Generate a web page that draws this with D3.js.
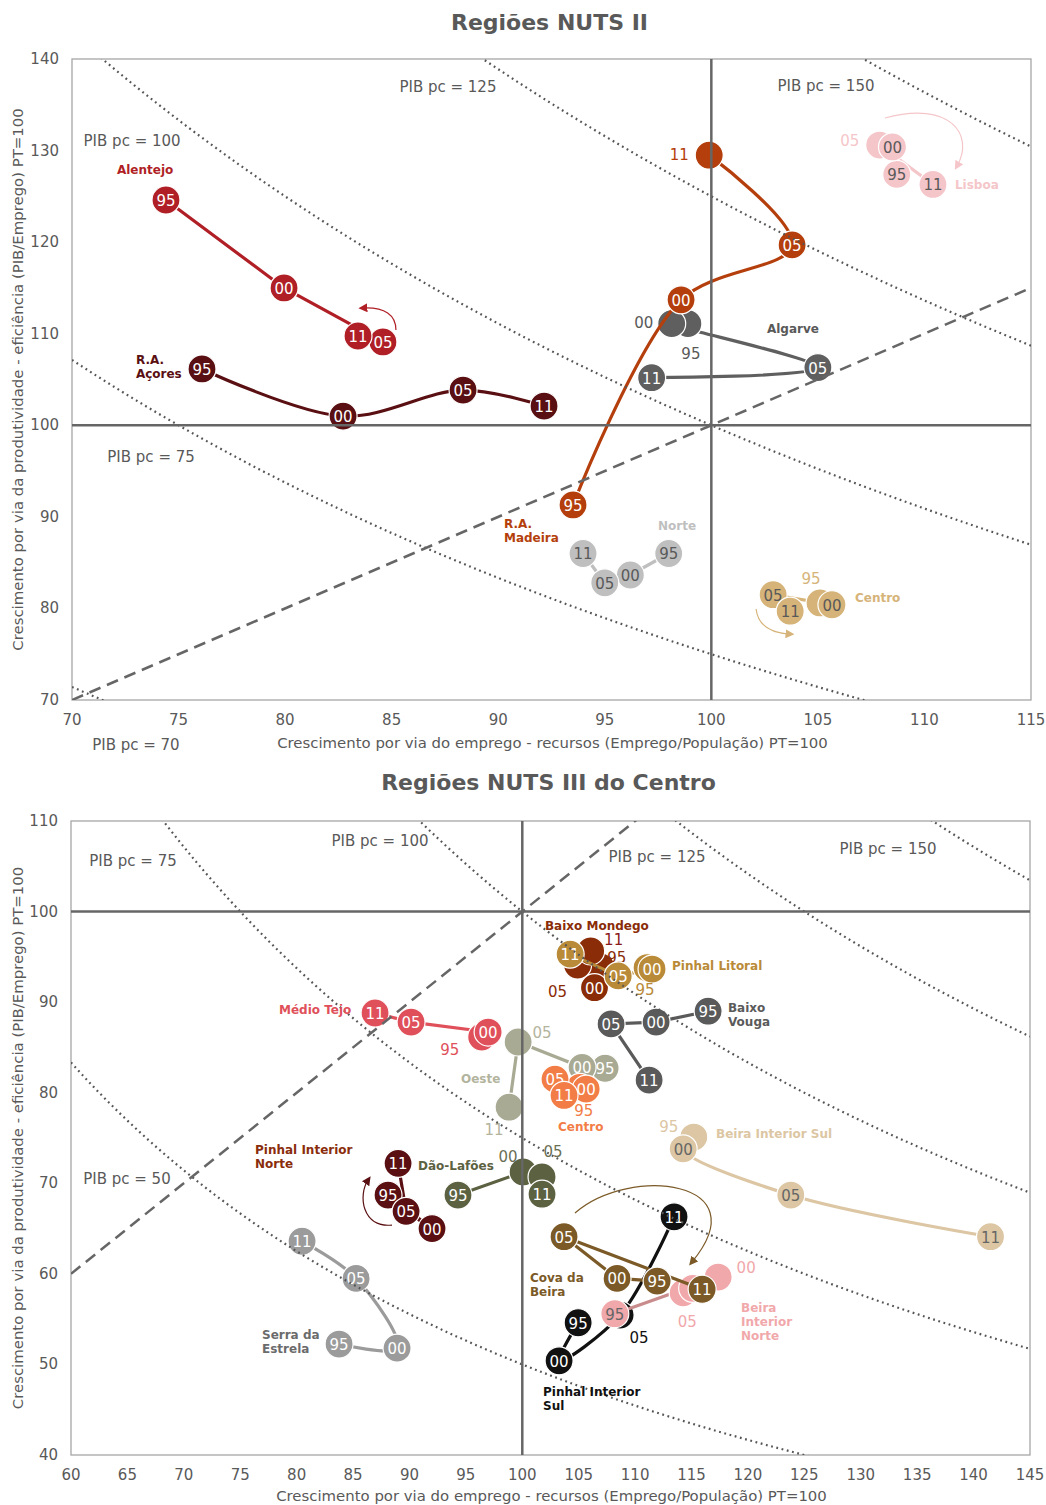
<!DOCTYPE html>
<html><head><meta charset="utf-8">
<script src="https://cdn.jsdelivr.net/npm/d3@7/dist/d3.min.js"></script>
<style>
body{margin:0;background:#fff}
svg text{font-family:"DejaVu Sans",Verdana,sans-serif}
</style>
</head><body>
<svg id="chart" width="1046" height="1505"></svg>
<script>
// ---------------- DATA ----------------
const years = ["95","00","05","11"];

// Regiões NUTS II (draw order)
const nuts2Names = ["Norte","Centro","Lisboa","Alentejo","Algarve","R.A. Açores","R.A. Madeira"];
const nuts2X = [
  [98.0, 96.2, 95.0, 93.98],
  [105.1, 105.66, 102.9, 103.7],
  [108.7, 108.5, 107.9, 110.4],
  [74.41, 79.95, 84.59, 83.42],
  [98.9, 98.14, 105.0, 97.2],
  [76.1, 82.72, 88.35, 92.15],
  [93.51, 98.58, 103.79, 99.9]
];
const nuts2Y = [
  [86.0, 83.65, 82.8, 86.0],
  [80.6, 80.4, 81.5, 79.7],
  [127.4, 130.4, 130.6, 126.3],
  [124.6, 115.0, 109.1, 109.75],
  [111.1, 111.1, 106.3, 105.2],
  [106.15, 101.0, 103.85, 102.1],
  [91.3, 113.7, 119.7, 129.5]
];

// Regiões NUTS III do Centro (draw order)
const nuts3Names = ["Serra da Estrela","Pinhal Interior Norte","Dão-Lafões","Médio Tejo","Oeste","Centro",
  "Baixo Vouga","Baixo Mondego","Pinhal Litoral","Beira Interior Sul","Pinhal Interior Sul","Beira Interior Norte","Cova da Beira"];
const nuts3X = [
  [83.76, 88.9, 85.27, 80.48],
  [88.1, 92.0, 89.7, 88.99],
  [94.3, 100.07, 101.75, 101.75],
  [96.4, 96.97, 90.14, 86.95],
  [107.34, 105.3, 99.63, 98.83],
  [105.1, 105.66, 102.9, 103.7],
  [116.47, 111.86, 107.87, 111.24],
  [106.95, 106.4, 104.9, 106.06],
  [111.06, 111.5, 108.5, 104.24],
  [115.2, 114.26, 123.8, 141.5],
  [104.95, 103.26, 108.67, 113.45],
  [108.2, 117.36, 114.26, 115.1],
  [111.95, 108.4, 103.7, 115.94]
];
const nuts3Y = [
  [52.25, 51.8, 59.5, 63.6],
  [68.7, 65.0, 66.9, 72.2],
  [68.7, 71.25, 70.7, 68.8],
  [86.15, 86.7, 87.8, 88.8],
  [82.7, 82.8, 85.6, 78.4],
  [80.6, 80.4, 81.5, 79.7],
  [89.0, 87.8, 87.6, 81.4],
  [93.9, 91.6, 94.1, 95.65],
  [93.8, 93.65, 92.9, 95.3],
  [75.1, 73.8, 68.7, 64.1],
  [54.6, 50.4, 55.45, 66.3],
  [55.6, 59.65, 57.9, 58.4],
  [59.2, 59.5, 64.1, 58.3]
];

// axes ticks and iso-GDP levels
const xTicks1 = [70,75,80,85,90,95,100,105,110,115];
const yTicks1 = [70,80,90,100,110,120,130,140];
const xTicks2 = [60,65,70,75,80,85,90,95,100,105,110,115,120,125,130,135,140,145];
const yTicks2 = [40,50,60,70,80,90,100,110];
const isoLevels1 = [50,75,100,125,150];
const isoLevels2 = [50,75,100,125,150];

// iso label texts (with anchor in data units)
const isoLabels1 = [["PIB pc = 125",87.64,136.94],["PIB pc = 150",105.38,137.05],["PIB pc = 100",72.82,131.05],
  ["PIB pc = 75",73.71,96.54],["PIB pc = 70",73.0,65.08]];
const isoLabels2 = [["PIB pc = 100",87.39,107.79],["PIB pc = 75",65.5,105.58],["PIB pc = 125",111.94,106.03],
  ["PIB pc = 150",132.42,106.91],["PIB pc = 50",64.96,70.47]];

// ---------------- STYLES / ANNOTATIONS ----------------
const styles = {
  "Norte":{c:"#bfbfbf",t:"#595959",lab:"#bfbfbf"},
  "Centro":{c:"#d6b479",t:"#595959",lab:"#d6b479"},
  "Lisboa":{c:"#f5c6c9",t:"#595959",lab:"#f5c6c9"},
  "Alentejo":{c:"#b01f26",t:"#fff",lab:"#b01f26"},
  "Algarve":{c:"#5f5f5f",t:"#fff",lab:"#595959",smooth:true},
  "R.A. Açores":{c:"#5a1012",t:"#fff",lab:"#5a1012",smooth:true},
  "R.A. Madeira":{c:"#b43f0c",t:"#fff",lab:"#b43f0c",smooth:true},
  "Serra da Estrela":{c:"#9b9b9b",t:"#fff",lab:"#6b6b6b",smooth:true},
  "Pinhal Interior Norte":{c:"#5a1012",t:"#fff",lab:"#8a2d0c"},
  "Dão-Lafões":{c:"#5c6142",t:"#fff",lab:"#5c6142"},
  "Médio Tejo":{c:"#e0505a",t:"#fff",lab:"#e0505a"},
  "Oeste":{c:"#a9aa94",t:"#fff",lab:"#b3b49e"},
  "Centro3":{c:"#f27d46",t:"#fff",lab:"#f27d46"},
  "Baixo Vouga":{c:"#5a5a5a",t:"#fff",lab:"#5a5a5a"},
  "Baixo Mondego":{c:"#8a2c08",t:"#fff",lab:"#8a2c08"},
  "Pinhal Litoral":{c:"#b98a37",t:"#fff",lab:"#b98a37"},
  "Beira Interior Sul":{c:"#dcc6a3",t:"#666",lab:"#dcc6a3",smooth:true},
  "Pinhal Interior Sul":{c:"#111111",t:"#fff",lab:"#111111",smooth:true},
  "Beira Interior Norte":{c:"#f1a8ab",t:"#666",lab:"#f1a8ab",line:"#c98c8c"},
  "Cova da Beira":{c:"#7b5a27",t:"#fff",lab:"#7b5a27"}
};

// year labels placed outside their circle: [series, year, dx, dy, colour] (dx===null -> no label)
const outside1 = [["R.A. Madeira","11",-30,0,"#b43f0c"],["Algarve","00",-28,-1,"#595959"],["Algarve","95",3,30,"#595959"],
  ["Lisboa","05",-30,-4,"#f5c6c9"],["Centro","95",-9,-24,"#d6b479"]];
const outside2 = [["Baixo Mondego","11",23,-11,"#8b1a1a"],["Baixo Mondego","95",16,-9,"#8a2c08"],["Baixo Mondego","05",-20,27,"#8a2c08"],
  ["Pinhal Litoral","95",-2,22,"#b98a37"],["Centro","95",4,24,"#f27d46"],["Oeste","05",24,-9,"#b3b49e"],["Oeste","11",-15,23,"#b3b49e"],
  ["Médio Tejo","95",-32,13,"#e0505a"],["Dão-Lafões","00",-15,-15,"#6b6f55"],["Dão-Lafões","05",11,-25,"#6b6f55"],
  ["Beira Interior Sul","95",-25,-10,"#dcc6a3"],["Beira Interior Norte","00",28,-9,"#f1a8ab"],["Beira Interior Norte","05",4,29,"#f1a8ab"],
  ["Beira Interior Norte","11",null,0,""],["Pinhal Interior Sul","05",19,23,"#111111"]];

// series name labels: [lines, x, y (data units), anchor, series]
const names1 = [[["Alentejo"],73.43,127.88,"middle","Alentejo"],[["R.A.","Açores"],73.0,107.13,"start","R.A. Açores"],
  [["R.A.","Madeira"],90.27,89.22,"start","R.A. Madeira"],[["Algarve"],103.83,110.51,"middle","Algarve"],
  [["Lisboa"],111.43,126.24,"start","Lisboa"],[["Norte"],97.5,89.0,"start","Norte"],[["Centro"],106.74,81.14,"start","Centro"]];
const names2 = [[["Baixo Mondego"],102.01,98.41,"start","Baixo Mondego"],[["Pinhal Litoral"],113.27,93.99,"start","Pinhal Litoral"],
  [["Baixo","Vouga"],118.23,89.35,"start","Baixo Vouga"],[["Médio Tejo"],78.44,89.13,"start","Médio Tejo"],
  [["Oeste"],94.57,81.51,"start","Oeste"],[["Centro"],103.17,76.21,"start","Centro3"],
  [["Pinhal Interior","Norte"],76.31,73.67,"start","Pinhal Interior Norte"],[["Dão-Lafões"],90.76,71.91,"start","Dão-Lafões"],
  [["Beira Interior Sul"],117.17,75.44,"start","Beira Interior Sul"],[["Serra da","Estrela"],76.93,53.25,"start","Serra da Estrela"],
  [["Cova da","Beira"],100.68,59.54,"start","Cova da Beira"],[["Beira","Interior","Norte"],119.39,56.23,"start","Beira Interior Norte"],
  [["Pinhal Interior","Sul"],101.84,46.95,"start","Pinhal Interior Sul"]];

// curved arrows (cubic, data units): [colour, [[x0,y0],[c1],[c2],[x1,y1]]]
const arrows1 = [["#b01f26",[[85.20,110.41],[85.20,112.05],[84.68,112.92],[83.65,112.81]]],
  ["#f5c6c9",[[108.15,133.56],[111.2,135.52],[112.37,131.7],[111.53,128.32]]],
  ["#d6b479",[[102.1,79.94],[102.19,78.19],[102.75,77.32],[103.69,77.21]]]];
const arrows2 = [["#5a1012",[[88.45,65.39],[85.79,65.06],[85.43,68.7],[86.33,70.36]]],
  ["#7b5a27",[[104.67,66.72],[109.55,72.02],[121.07,70.36],[115.04,61.31]]]];

// ---------------- DRAW ----------------
const svg = d3.select("#chart");
const GREY = "#595959";

function panel(cfg){
  const {id,title,titleY,xDom,yDom,xR,yR,xTicks,yTicks,iso,isoLabels,names,xs,ys,seriesNames,outside,arrows,xTitleY,styleKey} = cfg;
  const x = d3.scaleLinear().domain(xDom).range(xR);
  const y = d3.scaleLinear().domain(yDom).range(yR);
  const g = svg.append("g");

  g.append("text").attr("x",(xR[0]+xR[1])/2 - 2).attr("y",titleY).attr("text-anchor","middle")
    .attr("dominant-baseline","central").attr("font-size",22).attr("font-weight","bold").attr("fill",GREY).text(title);

  g.append("clipPath").attr("id",id).append("rect")
    .attr("x",xR[0]).attr("y",yR[1]).attr("width",xR[1]-xR[0]).attr("height",yR[0]-yR[1]);

  // frame
  g.append("rect").attr("x",xR[0]).attr("y",yR[1]).attr("width",xR[1]-xR[0]).attr("height",yR[0]-yR[1])
    .attr("fill","none").attr("stroke","#a6a6a6").attr("stroke-width",1.3);

  // tick labels
  g.selectAll(".xt").data(xTicks).join("text").attr("x",d=>x(d)).attr("y",yR[0]+20)
    .attr("text-anchor","middle").attr("dominant-baseline","central").attr("font-size",15).attr("fill",GREY).text(d=>d);
  g.selectAll(".yt").data(yTicks).join("text").attr("x",xR[0]-13).attr("y",d=>y(d))
    .attr("text-anchor","end").attr("dominant-baseline","central").attr("font-size",15).attr("fill",GREY).text(d=>d);

  // axis titles
  g.append("text").attr("x",(xR[0]+xR[1])/2+1).attr("y",xTitleY).attr("text-anchor","middle").attr("dominant-baseline","central")
    .attr("font-size",14.9).attr("fill",GREY).text("Crescimento por via do emprego - recursos (Emprego/População) PT=100");
  g.append("text").attr("transform",`translate(18,${(yR[0]+yR[1])/2}) rotate(-90)`).attr("text-anchor","middle")
    .attr("dominant-baseline","central").attr("font-size",14.9).attr("fill",GREY)
    .text("Crescimento por via da produtividade - eficiência (PIB/Emprego) PT=100");

  const clip = g.append("g").attr("clip-path",`url(#${id})`);

  // iso GDP per capita curves: x*y/100 = level
  const xsamp = d3.range(0,201).map(i=>xDom[0]+(xDom[1]-xDom[0])*i/200);
  iso.forEach(L=>{
    const pts = xsamp.map(v=>[v, L*100/v]);
    clip.append("path").attr("d",d3.line().x(d=>x(d[0])).y(d=>y(d[1]))(pts))
      .attr("fill","none").attr("stroke","#555").attr("stroke-width",2.2).attr("stroke-dasharray","1.8,3.6");
  });
  // y = x diagonal
  clip.append("line").attr("x1",x(xDom[0])).attr("y1",y(xDom[0])).attr("x2",x(xDom[1])).attr("y2",y(xDom[1]))
    .attr("stroke","#666").attr("stroke-width",2.5).attr("stroke-dasharray","12,7");
  // horizontal reference line y=100
  clip.append("line").attr("x1",xR[0]).attr("x2",xR[1]).attr("y1",y(100)).attr("y2",y(100))
    .attr("stroke","#666").attr("stroke-width",2.5);

  isoLabels.forEach(l=>{
    g.append("text").attr("x",x(l[1])).attr("y",y(l[2])).attr("text-anchor","middle").attr("dominant-baseline","central")
      .attr("font-size",15).attr("fill",GREY).text(l[0]);
  });

  // arrows
  arrows.forEach((a,i)=>{
    const mid = `${id}arr${i}`;
    g.append("marker").attr("id",mid).attr("viewBox","0 0 10 10").attr("refX",5).attr("refY",5)
      .attr("markerWidth",9).attr("markerHeight",9).attr("orient","auto-start-reverse").attr("markerUnits","userSpaceOnUse")
      .append("path").attr("d","M0,0 L10,5 L0,10 z").attr("fill",a[0]);
    const p = a[1];
    g.append("path").attr("d",`M${x(p[0][0])},${y(p[0][1])} C${x(p[1][0])},${y(p[1][1])} ${x(p[2][0])},${y(p[2][1])} ${x(p[3][0])},${y(p[3][1])}`)
      .attr("fill","none").attr("stroke",a[0]).attr("stroke-width",1.2).attr("marker-end",`url(#${mid})`);
  });

  // series
  seriesNames.forEach((name,si)=>{
    const st = styles[styleKey(name)];
    const pts = years.map((yr,k)=>({yr, x:xs[si][k], y:ys[si][k]}));
    const gen = d3.line().x(d=>x(d.x)).y(d=>y(d.y)).curve(st.smooth ? d3.curveCatmullRom.alpha(0.5) : d3.curveLinear);
    const sg = g.append("g");
    sg.append("path").attr("d",gen(pts)).attr("fill","none").attr("stroke",st.line||st.c).attr("stroke-width",3.2);
    const outs = outside.filter(o=>o[0]===name);
    const isOut = yr => outs.some(o=>o[1]===yr);
    const ordered = pts.filter(p=>isOut(p.yr)).concat(pts.filter(p=>!isOut(p.yr)));
    ordered.forEach(p=>{
      sg.append("circle").attr("cx",x(p.x)).attr("cy",y(p.y)).attr("r",14).attr("fill",st.c)
        .attr("stroke","#fff").attr("stroke-width",1.2);
      if(!isOut(p.yr)){
        sg.append("text").attr("x",x(p.x)).attr("y",y(p.y)+1).attr("text-anchor","middle").attr("dominant-baseline","central")
          .attr("font-size",15).attr("fill",st.t).text(p.yr);
      }
    });
    outs.forEach(o=>{
      if(o[2]===null) return;
      const k = years.indexOf(o[1]);
      g.append("text").attr("x",x(xs[si][k])+o[2]).attr("y",y(ys[si][k])+o[3]).attr("text-anchor","middle")
        .attr("dominant-baseline","central").attr("font-size",15).attr("fill",o[4]).text(o[1]);
    });
  });

  // vertical reference line x=100 (drawn over the markers)
  clip.raise();
  g.append("line").attr("x1",x(100)).attr("x2",x(100)).attr("y1",yR[1]).attr("y2",yR[0])
    .attr("stroke","#666").attr("stroke-width",2.5);

  // series names
  names.forEach(n=>{
    const t = g.append("text").attr("x",x(n[1])).attr("y",y(n[2])).attr("text-anchor",n[3])
      .attr("font-size",12).attr("font-weight","bold").attr("fill",styles[n[4]].lab).attr("dominant-baseline","central");
    n[0].forEach((line,i)=>t.append("tspan").attr("x",x(n[1])).attr("dy",i===0?0:14).text(line));
  });
}

panel({id:"p1",title:"Regiões NUTS II",titleY:22,xDom:[70,115],yDom:[70,140],xR:[72,1031],yR:[700,59],
  xTicks:xTicks1,yTicks:yTicks1,iso:isoLevels1,isoLabels:isoLabels1,names:names1,xs:nuts2X,ys:nuts2Y,
  seriesNames:nuts2Names,outside:outside1,arrows:arrows1,xTitleY:743,styleKey:n=>n});
panel({id:"p2",title:"Regiões NUTS III do Centro",titleY:782,xDom:[60,145],yDom:[40,110],xR:[71,1030],yR:[1455,821],
  xTicks:xTicks2,yTicks:yTicks2,iso:isoLevels2,isoLabels:isoLabels2,names:names2,xs:nuts3X,ys:nuts3Y,
  seriesNames:nuts3Names,outside:outside2,arrows:arrows2,xTitleY:1496,styleKey:n=>n==="Centro"?"Centro3":n});
</script>
</body></html>
